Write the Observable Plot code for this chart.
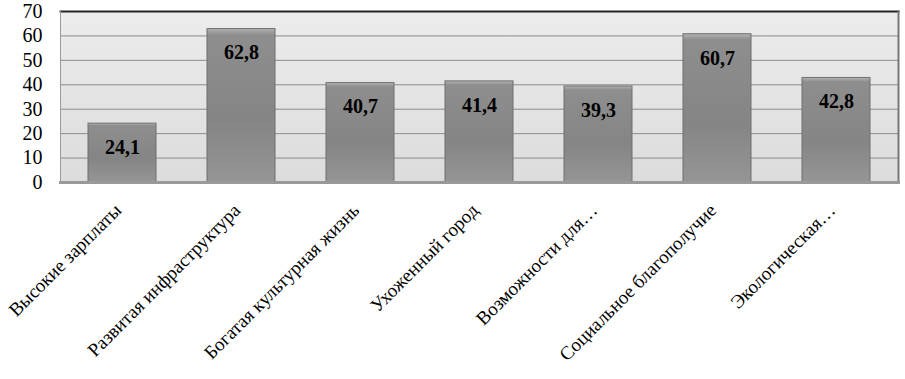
<!DOCTYPE html>
<html>
<head>
<meta charset="utf-8">
<script src="https://cdn.jsdelivr.net/npm/d3@7"></script>
<script src="https://cdn.jsdelivr.net/npm/@observablehq/plot@0.6"></script>
<style>
  html, body { margin: 0; padding: 0; background: #fff; }
  #chart svg { display: block; }
  #chart svg text { font-family: "Liberation Serif", "Tinos", "Times New Roman", "DejaVu Serif", serif !important; }
</style>
</head>
<body>
<div id="chart"></div>
<script>
const categories = [
  "Высокие зарплаты",
  "Развитая инфраструктура",
  "Богатая культурная жизнь",
  "Ухоженный город",
  "Возможности для…",
  "Социальное благополучие",
  "Экологическая…"
];
const values = [24.1, 62.8, 40.7, 41.4, 39.3, 60.7, 42.8];
const yTicks = [0, 10, 20, 30, 40, 50, 60, 70];

const data = categories.map((c, i) => ({category: c, value: values[i]}));
const fmt = v => v.toFixed(1).replace(".", ",");
const serif = "'Liberation Serif', 'DejaVu Serif', serif";

const chart = Plot.plot({
  width: 905,
  height: 379,
  marginLeft: 60,
  marginRight: 7,
  marginTop: 11,
  marginBottom: 197,
  style: {fontSize: "20px", color: "#000", background: "#fff"},
  x: {domain: categories, paddingInner: 0.43, paddingOuter: 0.215, axis: null},
  y: {domain: [0, 70], ticks: yTicks, axis: null},
  marks: [
    Plot.frame({fill: "url(#bgGrad)", stroke: "none"}),
    Plot.gridY(yTicks.filter(t => t > 0), {stroke: "#8c8c8c", strokeOpacity: 1, strokeWidth: 1}),
    Plot.barY(data, {x: "category", y: "value", fill: "url(#barGrad)", stroke: "#6f6f6f", strokeWidth: 1}),
    Plot.text(data, {x: "category", y: "value", text: d => fmt(d.value), dy: 24, fontWeight: "bold", fontSize: 20, fill: "#000"}),
    Plot.axisY({ticks: yTicks, tickSize: 0, tickPadding: 18, fontSize: 20, tickFormat: d => d, label: null, fill: "#000"}),
    Plot.text(categories, {x: d => d, frameAnchor: "bottom", rotate: -45, textAnchor: "end", dy: 29, dx: 0, fontSize: 19, fill: "#000"}),
    Plot.frame({anchor: "top", stroke: "#222", strokeWidth: 2}),
    Plot.frame({anchor: "left", stroke: "#9a9a9a", strokeWidth: 1}),
    Plot.frame({anchor: "right", stroke: "#777", strokeWidth: 2}),
    Plot.frame({anchor: "bottom", stroke: "#999", strokeWidth: 3})
  ]
});

const svg = d3.select(chart);
svg.attr("font-family", serif).style("font-family", serif);
svg.selectAll("g").attr("font-family", null);
const defs = svg.insert("defs", ":first-child");
const bg = defs.append("linearGradient").attr("id", "bgGrad").attr("x1", 0).attr("y1", 0).attr("x2", 0).attr("y2", 1);
bg.append("stop").attr("offset", "0%").attr("stop-color", "#ececec");
bg.append("stop").attr("offset", "100%").attr("stop-color", "#dcdcdc");
const bar = defs.append("linearGradient").attr("id", "barGrad").attr("x1", 0).attr("y1", 0).attr("x2", 0).attr("y2", 1);
bar.append("stop").attr("offset", "0%").attr("stop-color", "#b4b4b4");
bar.append("stop").attr("offset", "4%").attr("stop-color", "#8e8e8e");
bar.append("stop").attr("offset", "60%").attr("stop-color", "#858585");
bar.append("stop").attr("offset", "100%").attr("stop-color", "#959595");

document.getElementById("chart").appendChild(chart);
</script>
</body>
</html>
